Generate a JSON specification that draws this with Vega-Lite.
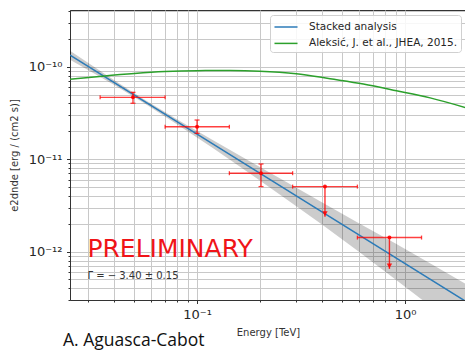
{
  "$schema": "https://vega.github.io/schema/vega-lite/v6.json",
  "width": 396,
  "height": 290,
  "autosize": {"type": "none"},
  "padding": {"left": 70, "top": 10, "right": 0, "bottom": 51},
  "background": "white",
  "title": {"text": "A. Aguasca-Cabot", "orient": "bottom", "anchor": "start", "frame": "group", "font": "Open Sans", "fontSize": 17.5, "fontWeight": 500, "color": "#111111", "baseline": "alphabetic", "offset": 8, "dx": -7},
  "config": {
    "view": {"stroke": "#333333", "strokeWidth": 1},
    "axis": {"labelFont": "DejaVu Sans", "titleFont": "DejaVu Sans", "labelColor": "#262626", "titleColor": "#333333", "titleFontWeight": "normal", "titleFontSize": 10, "labelFontSize": 13, "domainColor": "#333333", "tickColor": "#333333", "gridColor": "#c8c8c8", "gridWidth": 1, "labelOverlap": false, "labelFlush": false},
    "legend": {"orient": "top-right", "offset": 5, "fillColor": "rgba(255,255,255,0.85)", "strokeColor": "#d0d0d0", "cornerRadius": 3, "padding": 3, "symbolType": "M-1.44,0H1.44", "symbolSize": 256, "symbolStrokeWidth": 1.5, "symbolOffset": 4, "labelFontSize": 10.5, "labelFont": "DejaVu Sans", "labelColor": "#262626", "rowPadding": 1.4, "labelOffset": 14, "labelLimit": 400, "title": null}
  },
  "datasets": {
    "band": [
      {"E": 0.0245, "F": 1.336e-10, "lo": 1.189e-10, "hi": 1.483e-10},
      {"E": 0.04, "F": 6.73e-11, "lo": 6.33e-11, "hi": 7.13e-11},
      {"E": 0.055, "F": 4.305e-11, "lo": 4.11e-11, "hi": 4.5e-11},
      {"E": 0.08, "F": 2.547e-11, "lo": 2.39e-11, "hi": 2.7e-11},
      {"E": 0.12, "F": 1.445e-11, "lo": 1.3e-11, "hi": 1.59e-11},
      {"E": 0.18, "F": 8.18e-12, "lo": 6.95e-12, "hi": 9.41e-12},
      {"E": 0.27, "F": 4.64e-12, "lo": 3.67e-12, "hi": 5.61e-12},
      {"E": 0.4, "F": 2.677e-12, "lo": 1.95e-12, "hi": 3.4e-12},
      {"E": 0.6, "F": 1.518e-12, "lo": 1.0e-12, "hi": 2.03e-12},
      {"E": 0.9, "F": 8.6e-13, "lo": 4.99e-13, "hi": 1.221e-12},
      {"E": 1.35, "F": 4.88e-13, "lo": 2.49e-13, "hi": 7.27e-13},
      {"E": 1.963, "F": 2.887e-13, "lo": 1.3e-13, "hi": 4.47e-13}
    ],
    "curves": [
      {"series": "Stacked analysis", "E": 0.0245, "F": 1.336e-10},
      {"series": "Stacked analysis", "E": 0.1, "F": 1.87e-11},
      {"series": "Stacked analysis", "E": 1.963, "F": 2.887e-13},
      {"series": "Aleksić, J. et al., JHEA, 2015.", "E": 0.0245, "F": 7.3e-11},
      {"series": "Aleksić, J. et al., JHEA, 2015.", "E": 0.035, "F": 7.9e-11},
      {"series": "Aleksić, J. et al., JHEA, 2015.", "E": 0.05, "F": 8.45e-11},
      {"series": "Aleksić, J. et al., JHEA, 2015.", "E": 0.07, "F": 8.85e-11},
      {"series": "Aleksić, J. et al., JHEA, 2015.", "E": 0.1, "F": 9.05e-11},
      {"series": "Aleksić, J. et al., JHEA, 2015.", "E": 0.144, "F": 9.08e-11},
      {"series": "Aleksić, J. et al., JHEA, 2015.", "E": 0.2, "F": 8.95e-11},
      {"series": "Aleksić, J. et al., JHEA, 2015.", "E": 0.3, "F": 8.4e-11},
      {"series": "Aleksić, J. et al., JHEA, 2015.", "E": 0.436, "F": 7.4e-11},
      {"series": "Aleksić, J. et al., JHEA, 2015.", "E": 0.63, "F": 6.5e-11},
      {"series": "Aleksić, J. et al., JHEA, 2015.", "E": 0.91, "F": 5.5e-11},
      {"series": "Aleksić, J. et al., JHEA, 2015.", "E": 1.32, "F": 4.6e-11},
      {"series": "Aleksić, J. et al., JHEA, 2015.", "E": 1.963, "F": 3.6e-11}
    ],
    "pts": [
      {"E": 0.0492, "Elo": 0.0342, "Ehi": 0.0702, "y": 4.66e-11, "ylo": 4.02e-11, "yhi": 5.28e-11},
      {"E": 0.1, "Elo": 0.0702, "Ehi": 0.143, "y": 2.24e-11, "ylo": 1.9e-11, "yhi": 2.65e-11},
      {"E": 0.203, "Elo": 0.143, "Ehi": 0.288, "y": 7.05e-12, "ylo": 5.05e-12, "yhi": 8.87e-12},
      {"E": 0.412, "Elo": 0.288, "Ehi": 0.59, "y": 5.05e-12, "tip": 2.39e-12, "head": 2.58e-12},
      {"E": 0.841, "Elo": 0.59, "Ehi": 1.2, "y": 1.42e-12, "tip": 6.5e-13, "head": 7.0e-13}
    ],
    "notes": [
      {"E": 0.0297, "y": 8.7e-13, "label": "PRELIMINARY", "kind": "big"},
      {"E": 0.0297, "y": 5.03e-13, "label": "Γ = − 3.40 ± 0.15", "kind": "small"}
    ]
  },
  "encoding": {
    "x": {"field": "E", "type": "quantitative", "title": "Energy [TeV]",
      "scale": {"type": "log", "domain": [0.0245, 1.963], "nice": false},
      "axis": {"values": [0.03,0.04,0.05,0.06,0.07,0.08,0.09,0.1,0.2,0.3,0.4,0.5,0.6,0.7,0.8,0.9,1],
        "labelExpr": "datum.value == 0.1 ? '10⁻¹' : datum.value == 1 ? '10⁰' : ''",
        "tickSize": {"condition": {"test": "datum.value == 0.1 || datum.value == 1", "value": 3.5}, "value": 2},
        "labelPadding": 5, "titlePadding": 6, "grid": true}
    }
  },
  "layer": [
    {
      "data": {"name": "band"},
      "mark": {"type": "area", "clip": true, "color": "black", "opacity": 0.2},
      "encoding": {
        "y": {"field": "lo", "type": "quantitative", "title": "e2dnde [erg / (cm2 s)]",
          "scale": {"type": "log", "domain": [3.0e-13, 4.1e-10], "nice": false},
          "axis": {"values": [3e-13,4e-13,5e-13,6e-13,7e-13,8e-13,9e-13,1e-12,2e-12,3e-12,4e-12,5e-12,6e-12,7e-12,8e-12,9e-12,1e-11,2e-11,3e-11,4e-11,5e-11,6e-11,7e-11,8e-11,9e-11,1e-10,2e-10,3e-10,4e-10],
            "labelExpr": "datum.value == 1e-10 ? '10⁻¹⁰' : datum.value == 1e-11 ? '10⁻¹¹' : datum.value == 1e-12 ? '10⁻¹²' : ''",
            "tickSize": {"condition": {"test": "datum.value == 1e-10 || datum.value == 1e-11 || datum.value == 1e-12", "value": 3.5}, "value": 2},
            "labelPadding": 4.5, "titlePadding": 9, "grid": true}
        },
        "y2": {"field": "hi"}
      }
    },
    {
      "data": {"name": "curves"},
      "mark": {"type": "line", "clip": true, "strokeWidth": 1.5, "interpolate": "monotone"},
      "encoding": {
        "y": {"field": "F", "type": "quantitative", "title": "e2dnde [erg / (cm2 s)]"},
        "color": {"field": "series", "type": "nominal",
          "scale": {"domain": ["Stacked analysis", "Aleksić, J. et al., JHEA, 2015."], "range": ["#2c7bb8", "#2ca02c"]}},
        "order": {"field": "E", "type": "quantitative"}
      }
    },
    {
      "data": {"name": "pts"},
      "mark": {"type": "rule", "color": "red", "opacity": 0.75, "strokeWidth": 1.4},
      "encoding": {
        "x": {"field": "Elo", "type": "quantitative", "title": "Energy [TeV]"},
        "x2": {"field": "Ehi"},
        "y": {"field": "y", "type": "quantitative", "title": "e2dnde [erg / (cm2 s)]"}
      }
    },
    {
      "data": {"name": "pts"},
      "transform": [{"filter": "isValid(datum.ylo)"}],
      "mark": {"type": "rule", "color": "red", "opacity": 0.75, "strokeWidth": 1.4},
      "encoding": {
        "y": {"field": "ylo", "type": "quantitative", "title": "e2dnde [erg / (cm2 s)]"},
        "y2": {"field": "yhi"}
      }
    },
    {
      "data": {"name": "pts"},
      "transform": [{"filter": "isValid(datum.ylo)"}],
      "mark": {"type": "tick", "orient": "horizontal", "color": "red", "opacity": 0.75, "size": 5, "thickness": 1.3},
      "encoding": {
        "y": {"field": "ylo", "type": "quantitative", "title": "e2dnde [erg / (cm2 s)]"}
      }
    },
    {
      "data": {"name": "pts"},
      "transform": [{"filter": "isValid(datum.ylo)"}],
      "mark": {"type": "tick", "orient": "horizontal", "color": "red", "opacity": 0.75, "size": 5, "thickness": 1.3},
      "encoding": {
        "y": {"field": "yhi", "type": "quantitative", "title": "e2dnde [erg / (cm2 s)]"}
      }
    },
    {
      "data": {"name": "pts"},
      "mark": {"type": "tick", "orient": "vertical", "color": "red", "opacity": 0.75, "size": 4, "thickness": 1.3},
      "encoding": {
        "x": {"field": "Elo", "type": "quantitative", "title": "Energy [TeV]"},
        "y": {"field": "y", "type": "quantitative", "title": "e2dnde [erg / (cm2 s)]"}
      }
    },
    {
      "data": {"name": "pts"},
      "mark": {"type": "tick", "orient": "vertical", "color": "red", "opacity": 0.75, "size": 4, "thickness": 1.3},
      "encoding": {
        "x": {"field": "Ehi", "type": "quantitative", "title": "Energy [TeV]"},
        "y": {"field": "y", "type": "quantitative", "title": "e2dnde [erg / (cm2 s)]"}
      }
    },
    {
      "data": {"name": "pts"},
      "transform": [{"filter": "isValid(datum.tip)"}],
      "mark": {"type": "rule", "color": "red", "opacity": 0.8, "strokeWidth": 1.4},
      "encoding": {
        "y": {"field": "y", "type": "quantitative", "title": "e2dnde [erg / (cm2 s)]"},
        "y2": {"field": "tip"}
      }
    },
    {
      "data": {"name": "pts"},
      "transform": [{"filter": "isValid(datum.tip)"}],
      "mark": {"type": "point", "shape": "triangle-down", "filled": true, "color": "red", "opacity": 0.85, "size": 30},
      "encoding": {
        "y": {"field": "head", "type": "quantitative", "title": "e2dnde [erg / (cm2 s)]"}
      }
    },
    {
      "data": {"name": "pts"},
      "mark": {"type": "point", "shape": "circle", "filled": true, "color": "red", "opacity": 0.9, "size": 16},
      "encoding": {
        "y": {"field": "y", "type": "quantitative", "title": "e2dnde [erg / (cm2 s)]"}
      }
    },
    {
      "data": {"name": "notes"},
      "transform": [{"filter": "datum.kind == 'big'"}],
      "mark": {"type": "text", "align": "left", "baseline": "alphabetic", "font": "DejaVu Sans", "fontSize": 25, "color": "#f01418"},
      "encoding": {
        "y": {"field": "y", "type": "quantitative", "title": "e2dnde [erg / (cm2 s)]"},
        "text": {"field": "label"}
      }
    },
    {
      "data": {"name": "notes"},
      "transform": [{"filter": "datum.kind == 'small'"}],
      "mark": {"type": "text", "align": "left", "baseline": "alphabetic", "font": "DejaVu Sans", "fontSize": 10, "color": "#333333"},
      "encoding": {
        "y": {"field": "y", "type": "quantitative", "title": "e2dnde [erg / (cm2 s)]"},
        "text": {"field": "label"}
      }
    }
  ]
}
